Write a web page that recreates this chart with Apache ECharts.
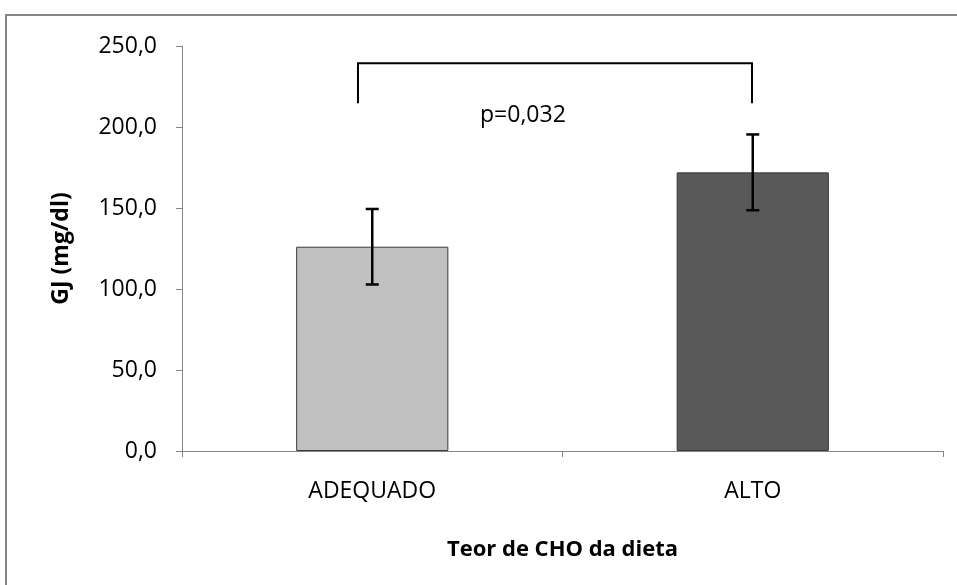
<!DOCTYPE html>
<html>
<head>
<meta charset="utf-8">
<script src="https://cdn.jsdelivr.net/npm/echarts@6/dist/echarts.min.js"></script>
<style>
html,body{margin:0;padding:0;background:#fff;}
#c{width:957px;height:585px;}
</style>
</head>
<body>
<div id="c"></div>
<script>
// Data
const categories = ['ADEQUADO', 'ALTO'];
const means = [126.1, 172.0];
const errors = [23.3, 23.4];
const barColors = ['#C0C0C0', '#595959'];
const yTicks = { min: 0, max: 250, interval: 50 };
const bracketFrom = 0.4625;   // position along categories (0..2)
const bracketTo = 1.498;
const bracketTop = 239.3;
const bracketLow = 214.6;
const pLabel = 'p=0,032';
const pLabelPos = [0.896, 207];

const FONT = '"Open Sans", sans-serif';
const chart = echarts.init(document.getElementById('c'));

const option = {
  animation: false,
  backgroundColor: '#fff',
  graphic: [{
    type: 'rect',
    shape: { x: 6, y: 15, width: 1000, height: 1000 },
    style: { fill: 'none', stroke: '#868686', lineWidth: 2 },
    silent: true
  }],
  grid: { left: 182, top: 46, right: 14, bottom: 134 },
  xAxis: [{
    type: 'category',
    data: categories,
    axisLine: { lineStyle: { color: '#868686', width: 1 } },
    axisTick: { show: true, length: 6, lineStyle: { color: '#868686' }, alignWithLabel: false },
    axisLabel: { color: '#000', fontFamily: FONT, fontSize: 23, margin: 29 },
    name: 'Teor de CHO da dieta',
    nameLocation: 'middle',
    nameGap: 88,
    nameTextStyle: { color: '#000', fontFamily: FONT, fontSize: 22, fontWeight: 'bold' }
  }, {
    type: 'value',
    min: 0, max: 2,
    show: false
  }],
  yAxis: {
    type: 'value',
    min: yTicks.min, max: yTicks.max, interval: yTicks.interval,
    axisLine: { show: true, lineStyle: { color: '#868686', width: 1 } },
    axisTick: { show: true, length: 6, lineStyle: { color: '#868686' } },
    splitLine: { show: false },
    axisLabel: {
      color: '#000', fontFamily: FONT, fontSize: 23, margin: 25,
      formatter: v => v.toFixed(1).replace('.', ',')
    },
    name: 'GJ (mg/dl)',
    nameLocation: 'middle',
    nameGap: 109,
    nameRotate: 90,
    nameTextStyle: { color: '#000', fontFamily: FONT, fontSize: 23, fontWeight: 'bold' }
  },
  series: [{
    type: 'bar',
    xAxisIndex: 0,
    barWidth: '40%',
    data: means.map((v, i) => ({
      value: v,
      itemStyle: { color: barColors[i], borderColor: '#3a3a3a', borderWidth: 1 }
    }))
  }, {
    type: 'custom',
    xAxisIndex: 0,
    data: means.map((m, i) => [i, m - errors[i], m + errors[i]]),
    renderItem: function (params, api) {
      const lo = api.coord([api.value(0), api.value(1)]);
      const hi = api.coord([api.value(0), api.value(2)]);
      const cap = 6.5;
      const st = { stroke: '#000', lineWidth: 2.5 };
      return {
        type: 'group',
        children: [
          { type: 'line', shape: { x1: hi[0], y1: hi[1], x2: lo[0], y2: lo[1] }, style: st },
          { type: 'line', shape: { x1: hi[0] - cap, y1: hi[1], x2: hi[0] + cap, y2: hi[1] }, style: st },
          { type: 'line', shape: { x1: lo[0] - cap, y1: lo[1], x2: lo[0] + cap, y2: lo[1] }, style: st }
        ]
      };
    },
    z: 5
  }, {
    type: 'custom',
    xAxisIndex: 1,
    data: [[bracketFrom, bracketTo, bracketTop, bracketLow]],
    renderItem: function (params, api) {
      const a = api.coord([api.value(0), api.value(3)]);
      const b = api.coord([api.value(0), api.value(2)]);
      const c = api.coord([api.value(1), api.value(2)]);
      const d = api.coord([api.value(1), api.value(3)]);
      const t = api.coord(pLabelPos);
      return {
        type: 'group',
        children: [
          { type: 'polyline', shape: { points: [a, b, c, d] },
            style: { stroke: '#000', lineWidth: 2, fill: 'none' } },
          { type: 'text', x: t[0], y: t[1],
            style: { text: pLabel, fill: '#000', font: '23px ' + FONT, align: 'center', verticalAlign: 'middle' } }
        ]
      };
    },
    z: 5
  }]
};
chart.setOption(option);
</script>
</body>
</html>
